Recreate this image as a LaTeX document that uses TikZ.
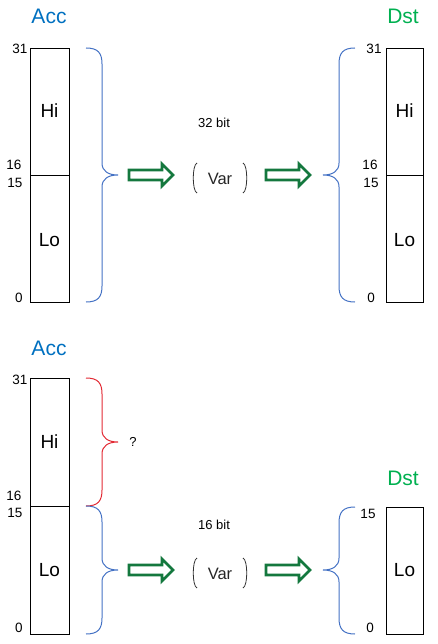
\documentclass[tikz,border=0pt]{standalone}
\usepackage{fontspec}
\setmainfont{Liberation Sans}
\definecolor{accblue}{RGB}{0,112,192}
\definecolor{dstgreen}{RGB}{0,176,80}
\definecolor{braceblue}{RGB}{68,114,196}
\definecolor{bracered}{RGB}{226,42,52}
\definecolor{arrowgreen}{RGB}{20,120,62}
\tikzset{
 reg/.style={draw=black, line width=0.9pt},
 bitlbl/.style={font=\fontsize{13.5}{13.5}\selectfont, inner sep=0pt},
 part/.style={font=\fontsize{19}{19}\selectfont, inner sep=0pt},
 ttl/.style={font=\fontsize{21}{21}\selectfont, inner sep=0pt},
 small/.style={font=\fontsize{13}{13}\selectfont, inner sep=0pt},
 varlbl/.style={font=\fontsize{16.5}{16.5}\selectfont, inner sep=0pt, text=black!85},
 bigarrow/.style={draw=arrowgreen, line width=2.8pt, fill=white, line join=miter},
 brc/.style={line width=1pt},
 paren/.style={draw=black!80, line width=0.8pt},
}
% closing brace: colour, x0, ytop, ymid, ybot
\newcommand\mybraceR[5]{%
 \draw[brc,#1] (#2,#3) .. controls ({#2+12},#3) and ({#2+16},{#3+5}) .. ({#2+16},{#3+16})
  -- ({#2+16},{#4-12}) .. controls ({#2+16},{#4-4}) and ({#2+22},#4) .. ({#2+32},#4)
  .. controls ({#2+22},#4) and ({#2+16},{#4+4}) .. ({#2+16},{#4+12})
  -- ({#2+16},{#5-16}) .. controls ({#2+16},{#5-5}) and ({#2+12},#5) .. (#2,#5);}
% opening brace: colour, x0, ytop, ymid, ybot
\newcommand\mybraceL[5]{%
 \draw[brc,#1] (#2,#3) .. controls ({#2-12},#3) and ({#2-16},{#3+5}) .. ({#2-16},{#3+16})
  -- ({#2-16},{#4-12}) .. controls ({#2-16},{#4-4}) and ({#2-22},#4) .. ({#2-32},#4)
  .. controls ({#2-22},#4) and ({#2-16},{#4+4}) .. ({#2-16},{#4+12})
  -- ({#2-16},{#5-16}) .. controls ({#2-16},{#5-5}) and ({#2-12},#5) .. (#2,#5);}
% hollow arrow: x0, y
\newcommand\myhollowarrow[2]{%
 \draw[bigarrow] (#1,{#2-5}) -- ({#1+33},{#2-5}) -- ({#1+33},{#2-11}) -- ({#1+44},#2)
  -- ({#1+33},{#2+11}) -- ({#1+33},{#2+5}) -- (#1,{#2+5}) -- cycle;}
% var with parentheses: name, xc, yc
\newcommand\myvar[3]{%
 \draw[paren] ({#2-23},{#3-15}) .. controls ({#2-28},{#3-13}) and ({#2-28},{#3+13}) .. ({#2-23},{#3+15});
 \draw[paren] ({#2+23},{#3-15}) .. controls ({#2+28},{#3-13}) and ({#2+28},{#3+13}) .. ({#2+23},{#3+15});
 \node[varlbl] (#1) at (#2,{#3+1}) {Var};}
\begin{document}
\begin{tikzpicture}[x=1pt,y=-1pt]
\useasboundingbox (0,0) rectangle (437,644);
% ---------- top ----------
\node[ttl,text=accblue] (acc1) at (49,16) {Acc};
\node[ttl,text=dstgreen] (dst1) at (403,16) {Dst};
\draw[reg] (30,48) rectangle (69,302);
\draw[reg] (30,175) -- (69,175);
\node[part] (hi1) at (49.5,111) {Hi};
\node[part] (lo1) at (49.5,240) {Lo};
\node[bitlbl] (a31) at (20,49) {31};
\node[bitlbl] (a16) at (14,165) {16};
\node[bitlbl] (a15) at (15,183) {15};
\node[bitlbl] (a0) at (19,298) {0};
\mybraceR{braceblue}{86}{48}{175}{302}
\myhollowarrow{129}{175}
\node[small] (bit32) at (214,123) {32 bit};
\myvar{var1}{220}{178}
\myhollowarrow{266}{175}
\mybraceL{braceblue}{355}{48}{175}{302}
\draw[reg] (386,48) rectangle (423,302);
\draw[reg] (386,175) -- (423,175);
\node[part] (hi2) at (404.5,111) {Hi};
\node[part] (lo2) at (404.5,240) {Lo};
\node[bitlbl] (d31) at (374,49) {31};
\node[bitlbl] (d16) at (370,165) {16};
\node[bitlbl] (d15) at (371,183) {15};
\node[bitlbl] (d0) at (371,298) {0};
% ---------- bottom ----------
\node[ttl,text=accblue] (acc2) at (49,348) {Acc};
\draw[reg] (30,378) rectangle (69,634);
\draw[reg] (30,506) -- (69,506);
\node[part] (hi3) at (49.5,442) {Hi};
\node[part] (lo3) at (49.5,570) {Lo};
\node[bitlbl] (b31) at (20,380) {31};
\node[bitlbl] (b16) at (14,496) {16};
\node[bitlbl] (b15) at (15,513) {15};
\node[bitlbl] (b0) at (19,628) {0};
\mybraceR{bracered}{86}{378}{442}{506}
\node[small] (q) at (133,442) {?};
\mybraceR{braceblue}{86}{506}{570}{634}
\myhollowarrow{129}{570}
\node[small] (bit16) at (214,525) {16 bit};
\myvar{var2}{220}{573}
\myhollowarrow{266}{570}
\node[ttl,text=dstgreen] (dst2) at (403,478) {Dst};
\mybraceL{braceblue}{355}{507}{570}{634}
\draw[reg] (386,507) rectangle (423,634);
\node[part] (lo4) at (404.5,570) {Lo};
\node[bitlbl] (e15) at (368,514) {15};
\node[bitlbl] (e0) at (370,628) {0};
\end{tikzpicture}
\end{document}
